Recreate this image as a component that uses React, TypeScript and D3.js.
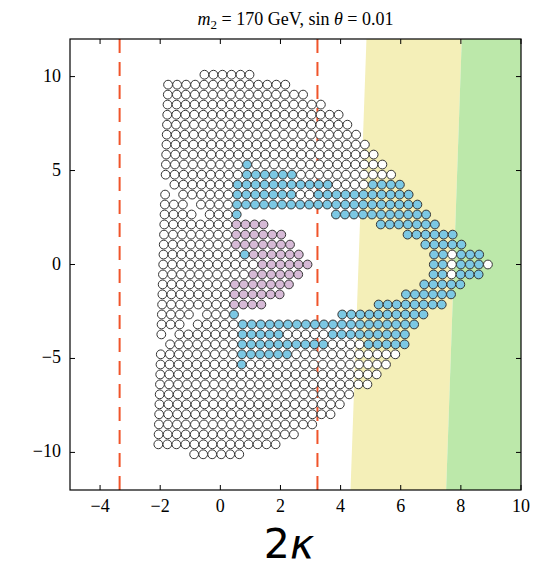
import React from "react";
import * as d3 from "d3";

// scan grid: x (2κ) columns, y rows
const xCols = [
  -1.9, -1.6, -1.3, -1.0, -0.7, -0.4, -0.1, 0.2, 0.5, 0.8, 1.1, 1.4, 1.7, 2.0,
  2.3, 2.6, 2.9, 3.2, 3.5, 3.8, 4.1, 4.4, 4.7, 5.0, 5.3, 5.6, 5.9, 6.2, 6.5,
  6.8, 7.1, 7.4, 7.7, 8.0, 8.3, 8.6, 8.9,
];
const yRows = [
  10.1, 9.57, 9.04, 8.51, 7.97, 7.44, 6.91, 6.38, 5.85, 5.32, 4.78, 4.25, 3.72,
  3.19, 2.66, 2.13, 1.59, 1.06, 0.53, 0, -0.53, -1.06, -1.59, -2.13, -2.66,
  -3.19, -3.72, -4.25, -4.78, -5.32, -5.85, -6.38, -6.91, -7.44, -7.97, -8.51,
  -9.04, -9.57, -10.1,
];
// the plotted points drift slightly in x with y
const xSkew = 0.0169;

// o = allowed (white), b = blue, p = purple ; segments are column ranges
const rowSpecs = [
  "o4-9",
  "o0-13",
  "o0-15",
  "o0-17",
  "o0-19",
  "o0-20",
  "o0-21",
  "o0-22",
  "o0-23",
  "o0-8 b9 o10-24",
  "o0-8 b9-14 o15-25",
  "o1-7 b8-18 o19-22 b23-26",
  "o0 o2-7 b8-14 o15-16 b17-27",
  "o0-2 o4-7 b8-28",
  "o0-3 o5-7 b8 b19-29",
  "o0-7 p8-11 b24-30",
  "o0-7 p8-13 b27-32",
  "o0-7 p8-14 b29-33",
  "o0-8 b9 p10-15 b30-31 o32 b33-35",
  "o0-10 p11-16 b30-31 o32 b33-35 o36",
  "o0-9 p10-15 b30-31 o32 b33-35",
  "o0-7 p8-14 b29-33",
  "o0-7 p8-13 b27-32",
  "o0-7 p8-11 b24-31",
  "o0-3 o5-7 b8 b20-29",
  "o0-2 o4-8 b9-28",
  "o0 o2-8 b9-13 o14-18 b19-27",
  "o1-8 b9-18 o19-22 b23-27",
  "o0-8 b9-14 o15-26",
  "o0-8 b9 o10-25",
  "o0-24",
  "o0-23",
  "o0-21",
  "o0-20",
  "o0-19",
  "o0-17",
  "o0-15",
  "o0-13",
  "o4-9",
];

const xTicks = [-4, -2, 0, 2, 4, 6, 8, 10];
const yTicks = [-10, -5, 0, 5, 10];
const dashedX = [-3.35, 3.23];
// shaded bands: left edge x at top (y=12) and bottom (y=-12)
const yellowEdge = [4.86, 4.33];
const greenEdge = [8.03, 7.51];

const fills: Record<string, string> = {
  o: "#ffffff",
  b: "#7cc8e4",
  p: "#d6bad6",
};

const W = 537;
const H = 572;
const plot = { left: 70, right: 521, top: 39, bottom: 490 };

const parseRow = (spec: string) => {
  const cells: { c: number; t: string }[] = [];
  spec.split(" ").forEach((seg) => {
    const t = seg[0];
    const parts = seg.slice(1).split("-").map(Number);
    const a = parts[0];
    const b = parts.length > 1 ? parts[1] : a;
    for (let c = a; c <= b; c++) cells.push({ c, t });
  });
  return cells;
};

const App = () => {
  const x = d3.scaleLinear().domain([-5, 10]).range([plot.left, plot.right]);
  const y = d3.scaleLinear().domain([-12, 12]).range([plot.bottom, plot.top]);

  const points = rowSpecs.flatMap((spec, r) =>
    parseRow(spec).map(({ c, t }) => ({
      x: xCols[c] + xSkew * yRows[r],
      y: yRows[r],
      t,
    })),
  );

  const band = (edge: number[], right: number[]) =>
    [
      [edge[0], 12],
      [right[0], 12],
      [right[1], -12],
      [edge[1], -12],
    ]
      .map(([a, b]) => `${x(a)},${y(b)}`)
      .join(" ");

  const serif = "'Liberation Serif', 'DejaVu Serif', serif";
  const tickLen = 5;
  const fmt = (t: number) => (t < 0 ? "\u2212" + Math.abs(t) : String(t));

  return (
    <div style={{ position: "absolute", left: 0, top: 0 }}>
      <svg width={W} height={H} style={{ display: "block", background: "#fff" }}>
        <defs>
          <clipPath id="plotClip">
            <rect
              x={plot.left}
              y={plot.top}
              width={plot.right - plot.left}
              height={plot.bottom - plot.top}
            />
          </clipPath>
        </defs>
        <g clipPath="url(#plotClip)">
          <polygon points={band(yellowEdge, greenEdge)} fill="#f4efb8" />
          <polygon points={band(greenEdge, [10.5, 10.5])} fill="#bce8aa" />
          {dashedX.map((d) => (
            <line
              key={d}
              x1={x(d)}
              x2={x(d)}
              y1={y(12)}
              y2={y(-12)}
              stroke="#f0542a"
              strokeWidth={2}
              strokeDasharray="14,9"
            />
          ))}
          {points.map((p, i) => (
            <circle
              key={i}
              cx={x(p.x)}
              cy={y(p.y)}
              r={4.4}
              fill={fills[p.t]}
              stroke="#333"
              strokeWidth={1}
            />
          ))}
        </g>
        <rect
          x={plot.left}
          y={plot.top}
          width={plot.right - plot.left}
          height={plot.bottom - plot.top}
          fill="none"
          stroke="#000"
          strokeWidth={1.2}
        />
        {xTicks.map((t) => (
          <g key={"x" + t}>
            <line x1={x(t)} x2={x(t)} y1={plot.bottom} y2={plot.bottom - tickLen} stroke="#000" />
            <line x1={x(t)} x2={x(t)} y1={plot.top} y2={plot.top + tickLen} stroke="#000" />
            <text
              x={x(t)}
              y={plot.bottom + 22}
              textAnchor="middle"
              fontFamily={serif}
              fontSize={18}
            >
              {fmt(t)}
            </text>
          </g>
        ))}
        {yTicks.map((t) => (
          <g key={"y" + t}>
            <line x1={plot.left} x2={plot.left + tickLen} y1={y(t)} y2={y(t)} stroke="#000" />
            <line x1={plot.right} x2={plot.right - tickLen} y1={y(t)} y2={y(t)} stroke="#000" />
            <text
              x={plot.left - 9}
              y={y(t) + 5}
              textAnchor="end"
              fontFamily={serif}
              fontSize={18}
            >
              {fmt(t)}
            </text>
          </g>
        ))}
        <text
          x={(plot.left + plot.right) / 2}
          y={25}
          textAnchor="middle"
          fontFamily={serif}
          fontSize={18}
        >
          <tspan fontStyle="italic">m</tspan>
          <tspan fontSize={13} dy={4}>2</tspan>
          <tspan dy={-4}> = 170 GeV, sin </tspan>
          <tspan fontStyle="italic">θ</tspan>
          <tspan> = 0.01</tspan>
        </text>
        <text
          x={289}
          y={558}
          textAnchor="middle"
          fontFamily="'DejaVu Sans', 'Noto Sans', sans-serif"
          fontSize={41}
        >
          2<tspan fontStyle="italic">κ</tspan>
        </text>
      </svg>
    </div>
  );
};

export default App;
